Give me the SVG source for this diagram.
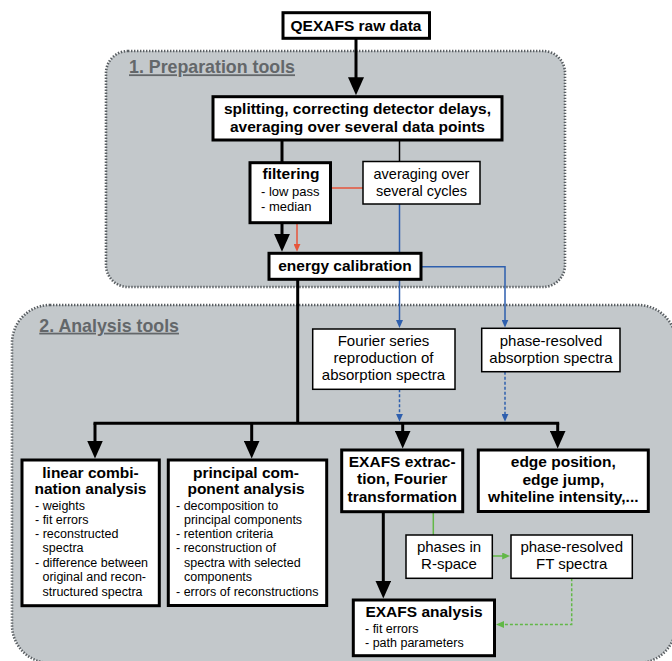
<svg xmlns="http://www.w3.org/2000/svg" width="672" height="661" viewBox="0 0 672 661">
<defs>
<style>
text{font-family:"Liberation Sans",Arial,Helvetica,sans-serif;fill:#000}
.h{font-weight:bold;font-size:15.5px;text-anchor:middle}
.r{font-size:15px;text-anchor:middle}
.b{font-size:12.5px}
.b13{font-size:13px}
.thick{fill:#fff;stroke:#000;stroke-width:3}
.thin{fill:#fff;stroke:#000;stroke-width:1.5}
.panel{fill:#c3c8cb;stroke:#595e62;stroke-width:2.6;stroke-dasharray:1.4 1.6}
.title{font-size:17.8px;font-weight:bold;fill:#63676a;text-decoration:underline}
.k{fill:none;stroke:#000;stroke-width:3}
.kt{fill:none;stroke:#000;stroke-width:1.5}
.bl{fill:none;stroke:#2e5fae;stroke-width:1.5}
.bld{fill:none;stroke:#2e5fae;stroke-width:1.5;stroke-dasharray:3 2}
.rd{fill:none;stroke:#e6553b;stroke-width:1.5}
.gr{fill:none;stroke:#62b847;stroke-width:1.5}
.grd{fill:none;stroke:#62b847;stroke-width:1.5;stroke-dasharray:3 2}
</style>
<marker id="ak" markerUnits="userSpaceOnUse" viewBox="0 0 18 16" markerWidth="18" markerHeight="16" refX="8" refY="8" orient="auto"><path d="M0,0 L18,8 L0,16 z" fill="#000"/></marker>
<marker id="ab" markerUnits="userSpaceOnUse" viewBox="0 0 8 7" markerWidth="8" markerHeight="7" refX="3" refY="3.5" orient="auto"><path d="M0,0 L8,3.5 L0,7 z" fill="#2e5fae"/></marker>
<marker id="ar" markerUnits="userSpaceOnUse" viewBox="0 0 8 7" markerWidth="8" markerHeight="7" refX="3" refY="3.5" orient="auto"><path d="M0,0 L8,3.5 L0,7 z" fill="#e6553b"/></marker>
<marker id="ag" markerUnits="userSpaceOnUse" viewBox="0 0 8 7" markerWidth="8" markerHeight="7" refX="3" refY="3.5" orient="auto"><path d="M0,0 L8,3.5 L0,7 z" fill="#62b847"/></marker>
</defs>

<g id="panel-preparation">
<rect class="panel" x="106" y="51" width="459" height="236" rx="22" ry="22"/>
<text class="title" x="129" y="73.3">1. Preparation tools</text>
</g>
<g id="panel-analysis">
<rect class="panel" x="12" y="305" width="664" height="358" rx="38" ry="38"/>
<text class="title" x="39.3" y="331.7">2. Analysis tools</text>
</g>

<g id="connectors">
<path class="k" d="M356,38.3 V85.2" marker-end="url(#ak)"/>
<path class="k" d="M282,140 V162.7"/>
<path class="kt" d="M399.5,140 V161.5"/>
<path class="k" d="M282,222.7 V241.8" marker-end="url(#ak)"/>
<path class="rd" d="M330,188 H363"/>
<path class="rd" d="M297,222.7 V246.8" marker-end="url(#ar)"/>
<path class="bl" d="M399.5,204 V323" marker-end="url(#ab)"/>
<path class="bl" d="M421,266.7 H505 V322.5" marker-end="url(#ab)"/>
<path class="bld" d="M399.5,389.3 V416.8" marker-end="url(#ab)"/>
<path class="bld" d="M505,371.7 V416.8" marker-end="url(#ab)"/>
<path class="k" d="M297.7,279.3 V423.3"/>
<path class="k" d="M93.5,423.3 H559.2"/>
<path class="k" d="M95,423.3 V448.5" marker-end="url(#ak)"/>
<path class="k" d="M251.7,423.3 V448.5" marker-end="url(#ak)"/>
<path class="k" d="M402.7,423.3 V438.5" marker-end="url(#ak)"/>
<path class="k" d="M557.7,423.3 V438.5" marker-end="url(#ak)"/>
<path class="k" d="M383.3,511.7 V588.5" marker-end="url(#ak)"/>
<path class="gr" d="M433.3,511.7 V535"/>
<path class="gr" d="M492.3,556 H505.2" marker-end="url(#ag)"/>
<path class="grd" d="M571.7,578.3 V624.5 H501" marker-end="url(#ag)"/>
</g>

<g id="qexafs-raw-data">
<rect class="thick" x="283" y="12.7" width="146.5" height="25.6"/>
<text class="h" x="356" y="31">QEXAFS raw data</text>
</g>
<g id="splitting">
<rect class="thick" x="213" y="96.7" width="289" height="43.3"/>
<text class="h" x="357.5" y="114.3">splitting, correcting detector delays,</text>
<text class="h" x="357.5" y="131.7">averaging over several data points</text>
</g>
<g id="filtering">
<rect class="thick" x="250" y="162.7" width="80.5" height="60"/>
<text class="h" x="291" y="179.3">filtering</text>
<text class="b13" x="261" y="195.7">- low pass</text>
<text class="b13" x="261" y="210.7">- median</text>
</g>
<g id="averaging-cycles">
<rect class="thin" x="363" y="161.5" width="117" height="42.5"/>
<text class="r" x="421.5" y="179.3" style="font-size:14.5px">averaging over</text>
<text class="r" x="421.5" y="195.7" style="font-size:14.5px">several cycles</text>
</g>
<g id="energy-calibration">
<rect class="thick" x="269" y="253.3" width="152" height="26"/>
<text class="h" x="345" y="270.7">energy calibration</text>
</g>
<g id="fourier-series">
<rect class="thin" x="312.7" y="329" width="142.3" height="60.3"/>
<text class="r" x="383.5" y="345.7">Fourier series</text>
<text class="r" x="383.5" y="363.3">reproduction of</text>
<text class="r" x="383.5" y="380">absorption spectra</text>
</g>
<g id="phase-resolved-absorption">
<rect class="thin" x="481.7" y="328.3" width="138.3" height="43.4"/>
<text class="r" x="551" y="345.7">phase-resolved</text>
<text class="r" x="551" y="362.7">absorption spectra</text>
</g>
<g id="linear-combination">
<rect class="thick" x="22" y="460" width="137.3" height="145.7"/>
<text class="h" x="90.5" y="478.3">linear combi-</text>
<text class="h" x="90.5" y="494">nation analysis</text>
<text class="b" x="35" y="509.6">- weights</text>
<text class="b" x="35" y="523.8">- fit errors</text>
<text class="b" x="35" y="538">- reconstructed</text>
<text class="b" x="42.5" y="552.3">spectra</text>
<text class="b" x="35" y="566.7">- difference between</text>
<text class="b" x="42.5" y="581">original and recon-</text>
<text class="b" x="42.5" y="595.5">structured spectra</text>
</g>
<g id="principal-component">
<rect class="thick" x="168.3" y="460" width="158.4" height="145.5"/>
<text class="h" x="246" y="478.3">principal com-</text>
<text class="h" x="246" y="494">ponent analysis</text>
<text class="b" x="176" y="509.6">- decomposition to</text>
<text class="b" x="184" y="523.8">principal components</text>
<text class="b" x="176" y="538">- retention criteria</text>
<text class="b" x="176" y="552.3">- reconstruction of</text>
<text class="b" x="184" y="566.7">spectra with selected</text>
<text class="b" x="184" y="581">components</text>
<text class="b" x="176" y="595.5">- errors of reconstructions</text>
</g>
<g id="exafs-extraction">
<rect class="thick" x="341.7" y="450" width="121" height="61.7"/>
<text class="h" x="402.2" y="466.7">EXAFS extrac-</text>
<text class="h" x="402.2" y="484.3">tion, Fourier</text>
<text class="h" x="402.2" y="501.7">transformation</text>
</g>
<g id="edge-position">
<rect class="thick" x="478.3" y="450" width="170" height="61.5"/>
<text class="h" x="563.3" y="466.7">edge position,</text>
<text class="h" x="563.3" y="485">edge jump,</text>
<text class="h" x="563.3" y="501.7">whiteline intensity,...</text>
</g>
<g id="phases-r-space">
<rect class="thin" x="406" y="535" width="86.3" height="43.3"/>
<text class="r" x="449" y="552.3">phases in</text>
<text class="r" x="449" y="569">R-space</text>
</g>
<g id="phase-resolved-ft">
<rect class="thin" x="511" y="535" width="121.3" height="43.3"/>
<text class="r" x="571.7" y="551.7">phase-resolved</text>
<text class="r" x="571.7" y="569.3">FT spectra</text>
</g>
<g id="exafs-analysis">
<rect class="thick" x="353.3" y="600" width="141.2" height="55.7"/>
<text class="h" x="424" y="617">EXAFS analysis</text>
<text class="b" x="365" y="632.5">- fit errors</text>
<text class="b" x="365" y="647">- path parameters</text>
</g>
</svg>
